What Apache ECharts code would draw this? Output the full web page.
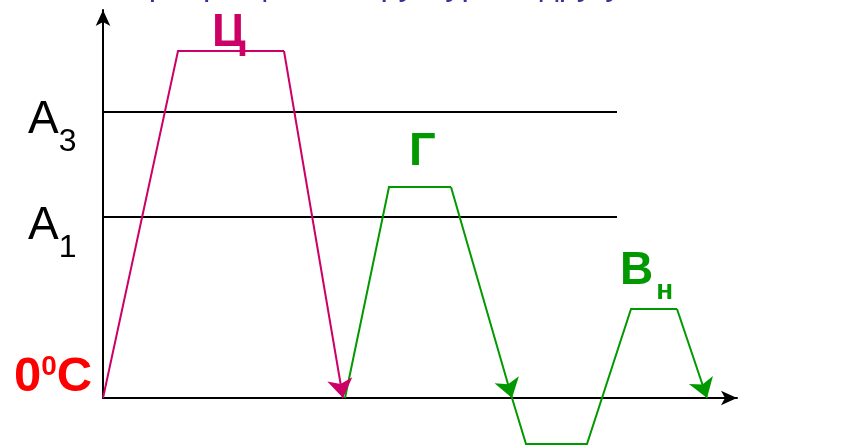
<!DOCTYPE html>
<html><head><meta charset="utf-8">
<script src="https://cdn.jsdelivr.net/npm/echarts@6/dist/echarts.min.js"></script>
<style>html,body{margin:0;padding:0;background:#fff}#c{width:859px;height:445px}</style>
</head><body><div id="c"></div>
<script>
// time (x) and temperature (y) values; 0 on y = 0°C
const cementiteTime = [0, 75, 181, 240];
const cementiteTemp = [0, 347, 347, 0];
const hardenTime1 = [242, 286, 348, 409];
const hardenTemp1 = [0, 211, 211, 0];
const hardenTime2 = [409, 423, 484, 528, 574, 604];
const hardenTemp2 = [0, -46, -46, 89, 89, 0];
const criticalNames = ['A3', 'A1'];
const criticalTemps = [286, 181];
const criticalEnd = 514;

const zip = (xs, ys) => xs.map((x, i) => [x, ys[i]]);
const pink = '#cc0066', green = '#009900', black = '#000';

const chart = echarts.init(document.getElementById('c'), null, {renderer: 'canvas'});
const plain = (coords, color, w) => ({
  type: 'lines', coordinateSystem: 'cartesian2d', polyline: true,
  symbol: 'none',
  lineStyle: {color: color, width: w, opacity: 1},
  data: [{coords: coords}], silent: true, z: 3
});
const arrowSeg = (a, b, color, w, size) => ({
  type: 'lines', coordinateSystem: 'cartesian2d', polyline: false,
  symbol: ['none', 'arrow'], symbolSize: size,
  lineStyle: {color: color, width: w, opacity: 1, curveness: 0},
  data: [{coords: [a, b]}], silent: true, z: 4
});
const arrowPath = (coords, color) => {
  const out = [];
  if (coords.length > 2) out.push(plain(coords.slice(0, -1), color, 2));
  out.push(arrowSeg(coords[coords.length - 2], coords[coords.length - 1], color, 2, 19));
  return out;
};
const axisArrow = {show: true, onZero: true, symbol: ['none', 'arrow'], symbolSize: [11, 16], lineStyle: {color: black, width: 2}};
chart.setOption({
  animation: false,
  grid: [
    {left: 103, right: 122, top: 8, bottom: 0},
    {left: 103, right: 122, top: 10, bottom: 47}
  ],
  xAxis: [
    {type: 'value', min: 0, max: 634, gridIndex: 0, splitLine: {show: false}, axisTick: {show: false}, axisLabel: {show: false}, axisLine: axisArrow},
    {type: 'value', min: 0, max: 634, gridIndex: 1, show: false}
  ],
  yAxis: [
    {type: 'value', min: -47, max: 390, gridIndex: 0, show: false},
    {type: 'value', min: 0, max: 388, gridIndex: 1, splitLine: {show: false}, axisTick: {show: false}, axisLabel: {show: false}, axisLine: axisArrow}
  ],
  series: [
    ...criticalTemps.map(t => plain([[0, t], [criticalEnd, t]], black, 2)),
    ...arrowPath(zip(cementiteTime, cementiteTemp), pink),
    ...arrowPath(zip(hardenTime1, hardenTemp1), green),
    ...arrowPath(zip(hardenTime2, hardenTemp2), green)
  ],
  graphic: [
    {type: 'text', left: 125, top: -31, style: {text: 'Превращение структуры в другую', font: '33px "Liberation Sans", Arial', fill: '#333399'}},
    {type: 'text', left: 28, top: 97, style: {text: '{a|A}{s|3}', rich: {a: {font: '46px "Liberation Sans"', fill: black}, s: {font: '32px "Liberation Sans"', fill: black, padding: [44, 0, 0, 0]}}}},
    {type: 'text', left: 28, top: 203, style: {text: '{a|A}{s|1}', rich: {a: {font: '46px "Liberation Sans"', fill: black}, s: {font: '32px "Liberation Sans"', fill: black, padding: [44, 0, 0, 0]}}}},
    {type: 'text', left: 14, top: 353, style: {text: '{a|0}{s|0}{a|C}', rich: {a: {font: 'bold 49px "Liberation Sans"', fill: '#ff0000'}, s: {font: 'bold 28px "Liberation Sans"', fill: '#ff0000', padding: [0, 0, 20, 0]}}}},
    {type: 'text', left: 212, top: 10, style: {text: 'Ц', font: 'bold 46px "Liberation Sans"', fill: pink}},
    {type: 'text', left: 409, top: 129, style: {text: 'Г', font: 'bold 47px "Liberation Sans"', fill: green}},
    {type: 'text', left: 620, top: 248, style: {text: '{a|В}{s|н}', rich: {a: {font: 'bold 46px "Liberation Sans"', fill: green}, s: {font: 'bold 28px "Liberation Sans"', fill: green, padding: [40, 0, 0, 3]}}}}
  ]
});
</script></body></html>
